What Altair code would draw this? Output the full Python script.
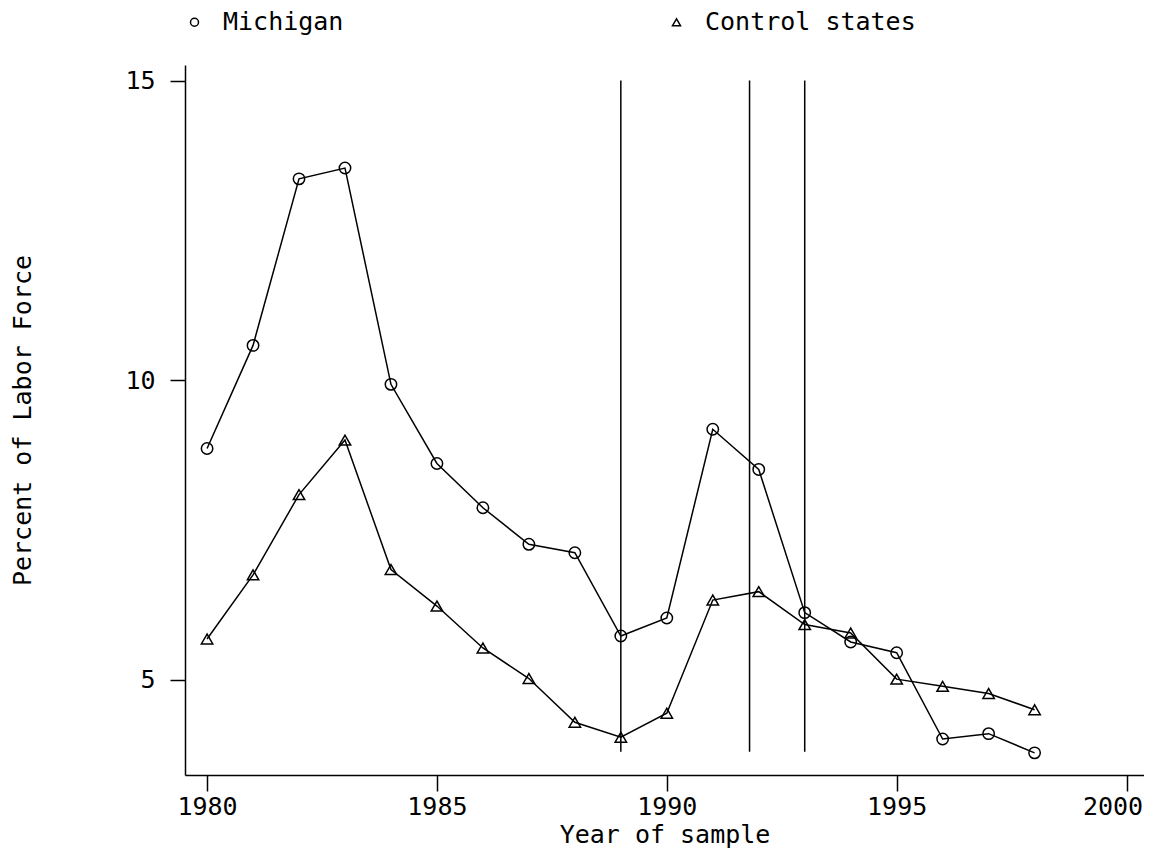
import altair as alt
import pandas as pd

years = list(range(1980, 1999))
michigan = [8.86, 10.58, 13.36, 13.54, 9.93, 8.61, 7.87, 7.26, 7.12, 5.73,
            6.03, 9.18, 8.51, 6.12, 5.63, 5.45, 4.01, 4.10, 3.78]
control = [5.68, 6.75, 8.09, 9.00, 6.84, 6.23, 5.53, 5.02, 4.29, 4.04,
           4.44, 6.33, 6.47, 5.92, 5.78, 5.01, 4.89, 4.77, 4.50]
series_names = ["Michigan", "Control states"]
vline_years = [1989, 1991.8, 1993]
vline_bottom = 3.8
vline_top = 15
x_ticks = [1980, 1985, 1990, 1995, 2000]
y_ticks = [5, 10, 15]

df = pd.DataFrame({
    "year": years * 2,
    "value": michigan + control,
    "series": [series_names[0]] * len(years) + [series_names[1]] * len(years),
})
vl = pd.DataFrame({"x": vline_years, "y": [vline_bottom] * 3, "y2": [vline_top] * 3})

FONT = "DejaVu Sans Mono"
xscale = alt.Scale(domain=[1979.52, 2000.38], nice=False, zero=False)
yscale = alt.Scale(domain=[3.41, 15.26], nice=False, zero=False)

xaxis = alt.Axis(values=x_ticks, title="Year of sample", format="d",
                 tickSize=16, labelPadding=3, titleY=67, titleBaseline="alphabetic",
                 labelOffset={"condition": {"test": "datum.value == 2000", "value": -14},
                              "value": 0})
yaxis = alt.Axis(values=y_ticks, title="Percent of Labor Force", format="d",
                 tickSize=15, labelPadding=15, titleX=-163, titleBaseline="middle",
                 titleAngle=-90)

base = alt.Chart(df)
lines = base.mark_line(color="black", strokeWidth=1.5).encode(
    x=alt.X("year:Q", scale=xscale, axis=xaxis),
    y=alt.Y("value:Q", scale=yscale, axis=yaxis),
    detail="series:N",
)
points = base.mark_point(filled=False, color="black", strokeWidth=1.5, size=130, opacity=1).encode(
    x=alt.X("year:Q", scale=xscale),
    y=alt.Y("value:Q", scale=yscale),
    shape=alt.Shape("series:N",
                    scale=alt.Scale(domain=series_names, range=["circle", "triangle-up"]),
                    legend=alt.Legend(orient="none", legendX=-3, legendY=-55.5,
                                      direction="horizontal", columns=2, columnPadding=320,
                                      title=None, labelFont=FONT, labelFontSize=25,
                                      labelColor="black", labelOffset=16, labelLimit=0,
                                      symbolSize=64,
                                      symbolStrokeWidth=1.5, symbolStrokeColor="black",
                                      symbolFillColor="transparent", padding=0)),
)
rules = alt.Chart(vl).mark_rule(color="black", strokeWidth=1.5).encode(
    x=alt.X("x:Q", scale=xscale),
    y=alt.Y("y:Q", scale=yscale),
    y2="y2:Q",
)

chart = alt.layer(rules, lines, points).properties(
    width=959, height=710,
    background="white",
    autosize=alt.AutoSizeParams(type="none"),
    padding={"left": 177, "top": 57, "right": 0, "bottom": 73},
).configure_view(stroke=None).configure_axis(
    grid=False, domainColor="black", domainWidth=1.5, tickColor="black", tickWidth=1.5,
    labelFont=FONT, labelFontSize=25, labelColor="black",
    titleFont=FONT, titleFontSize=25, titleColor="black", titleFontWeight="normal",
)

chart.save("out.html", embed_options={"renderer": "svg", "actions": False})
